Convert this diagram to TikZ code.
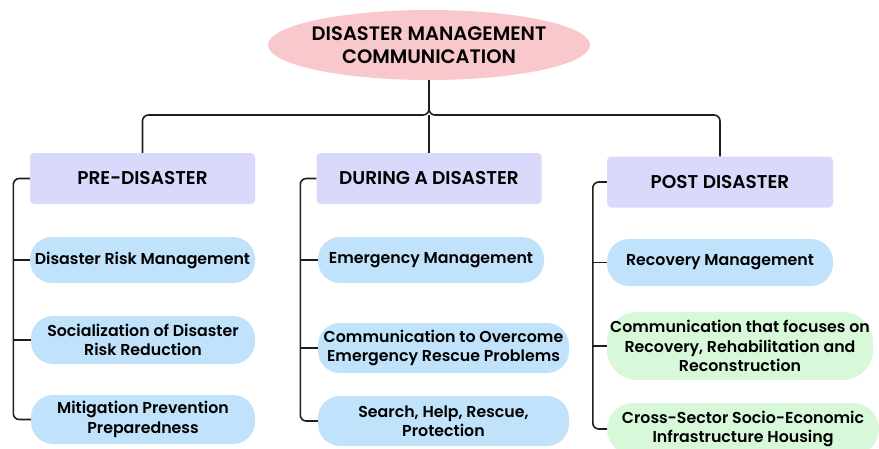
\documentclass[tikz,border=0pt]{standalone}
\usepackage{fontspec}
\setmainfont{Poppins}[BoldFont={Poppins SemiBold}]
\usetikzlibrary{positioning,shapes.geometric}
\definecolor{titlepink}{HTML}{F9C8CD}
\definecolor{headlav}{HTML}{D9DAFB}
\definecolor{itemblue}{HTML}{C0E3FB}
\definecolor{itemgreen}{HTML}{D8F8DA}
\definecolor{linegray}{HTML}{1E1E1E}
\tikzset{
  x=1pt, y=-1pt,
  titleshape/.style={ellipse, fill=titlepink, minimum width=322pt, minimum height=70pt, inner sep=0pt},
  titletext/.style={font=\bfseries\fontsize{19.5}{23}\selectfont, align=center, inner sep=0pt},
  headbox/.style={rectangle, rounded corners=4pt, fill=headlav, minimum height=51pt,
    font=\bfseries\fontsize{18.5}{22}\selectfont, align=center, inner sep=0pt},
  itembox/.style={rectangle, rounded corners=22pt, fill=itemblue,
    font=\bfseries\fontsize{15.8}{19.5}\selectfont, align=center, inner sep=0pt},
  greenbox/.style={itembox, fill=itemgreen},
  link/.style={draw=linegray, line width=1.6pt, rounded corners=6pt},
}
\begin{document}
\begin{tikzpicture}
\useasboundingbox (0,0) rectangle (879,448);
\begin{scope}
\clip (0,0) rectangle (879,448);

% title
\node[titleshape] (title) at (429,45) {};
\node[titletext] (titlelabel) at (title.center) {DISASTER MANAGEMENT\\COMMUNICATION};

% phase headers
\node[headbox, minimum width=225pt] (pre) at (142.5,178.5) {PRE-DISASTER};
\node[headbox, minimum width=225pt] (during) at (429,178.5) {DURING A DISASTER};
\node[headbox, minimum width=226pt] (post) at (720,182) {POST DISASTER};

% pre-disaster items
\node[itembox, minimum width=225pt, minimum height=46pt] (p1) at (142.5,260) {Disaster Risk Management};
\node[itembox, minimum width=224pt, minimum height=48pt] (p2) at (143,340) {Socialization of Disaster\\Risk Reduction};
\node[itembox, minimum width=224pt, minimum height=49pt] (p3) at (143,419.5) {Mitigation Prevention\\Preparedness};

% during-disaster items
\node[itembox, minimum width=226pt, minimum height=46pt] (d1) at (431,260) {Emergency Management};
\node[itembox, minimum width=251pt, minimum height=50pt] (d2) at (443.5,348) {Communication to Overcome\\Emergency Rescue Problems};
\node[itembox, minimum width=251pt, minimum height=50pt] (d3) at (443.5,421) {Search, Help, Rescue,\\Protection};

% post-disaster items
\node[itembox, minimum width=226pt, minimum height=47pt] (q1) at (720,262.5) {Recovery Management};
\node[greenbox, minimum width=266pt, minimum height=68pt, rounded corners=30pt] (q2) at (740,346) {Communication that focuses on\\Recovery, Rehabilitation and\\Reconstruction};
\node[greenbox, minimum width=272pt, minimum height=52pt, rounded corners=26pt] (q3) at (743,429) {Cross-Sector Socio-Economic\\Infrastructure Housing};

% tree connectors
\coordinate (hub) at (title.south |- 0,115);
\draw[link] (title.south) -- (hub) -| (pre.north);
\draw[link] (title.south) -- (hub) -| (post.north);
\draw[link] (hub) -- (during.north);

% side brackets
\draw[link] (pre.west) -- ++(-16.5,0) |- (p3.west);
\draw[link] (p1.west) -- ++(-16.5,0);
\draw[link] (p2.west) -- ++(-17,0);

\draw[link] (during.west) -- ++(-16,0) |- (d3.west);
\draw[link] (d1.west) -- ++(-18,0);
\draw[link] (d2.west) -- ++(-18,0);

\draw[link] (post.west) -- ++(-14,0) |- (q3.west);
\draw[link] (q1.west) -- ++(-14,0);
\draw[link] (q2.west) -- ++(-14,0);
\end{scope}
\end{tikzpicture}
\end{document}
